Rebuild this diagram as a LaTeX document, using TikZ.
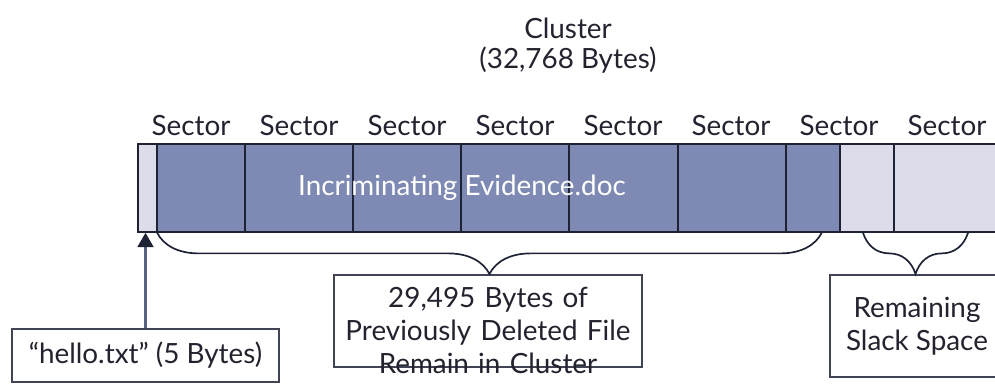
\documentclass[tikz,border=0pt]{standalone}
\usepackage{fontspec}
\setmainfont{Lato}
\usetikzlibrary{arrows.meta,positioning,decorations.pathreplacing}
\definecolor{clusterdark}{HTML}{7E8AB4}
\definecolor{clusterlight}{HTML}{DDDCEB}
\definecolor{clusterline}{HTML}{1E2235}
\definecolor{labeltext}{HTML}{22232E}
\definecolor{arrowslate}{HTML}{56627F}
\tikzset{
  sector-label/.style={font=\fontsize{19.8}{23.5}\selectfont, text=labeltext, inner sep=0pt},
  sector-cell/.style={draw=clusterline, line width=1.1pt, minimum height=2.2cm, inner sep=0pt, anchor=west},
  callout-box/.style={draw=clusterline!85, line width=1.3pt, fill=white, align=center,
    font=\fontsize{19.8}{23.5}\selectfont, text=labeltext, inner sep=0pt},
  cluster-brace/.style={decorate, decoration={brace, mirror, amplitude=1.03cm}, draw=clusterline, line width=1.2pt}
}

\begin{document}
\begin{tikzpicture}[x=0.025cm, y=-0.025cm]
  \useasboundingbox (0,0) rectangle (995,392);

  % Cluster title
  \node[sector-label] (title) at (568,28) {Cluster};
  \node[sector-label] (size) at (568,60) {(32,768 Bytes)};

  % Sector labels
  \foreach \i/\x in {1/191, 2/299, 3/407, 4/515, 5/623, 6/731, 7/839, 8/947} {
    \node[sector-label] (sec\i) at (\x,126) {Sector};
  }

  % Cluster bar: slack, file, slack
  \node[sector-cell, fill=clusterlight, minimum width=0.475cm] (slack0) at (137,188) {};
  \node[sector-cell, fill=clusterdark, minimum width=17.075cm] (file) at (156,188) {};
  \node[sector-cell, fill=clusterlight, minimum width=1.35cm] (slack1) at (839,188) {};
  \node[sector-cell, fill=clusterlight, minimum width=2.7cm] (slack2) at (893,188) {};
  \foreach \x in {245, 353, 461, 569, 678, 786} {
    \draw[clusterline, line width=1.1pt] (\x,144) -- (\x,232);
  }
  \node[sector-label, text=white] (doc) at (462,188) {Incriminating Evidence.doc};

  % Callouts
  \node[callout-box, minimum width=6.675cm, minimum height=1.325cm] (hello) at (145.5,355.5) {“hello.txt” (5 Bytes)};
  \node[callout-box, anchor=north, text width=7.7cm, inner ysep=0.3cm, text depth=1.2cm] (deleted) at (488,274)
    {29,495 Bytes of\\Previously Deleted File\\Remain in Cluster};
  \node[callout-box, minimum width=4.35cm, minimum height=2.55cm] (slack) at (917,326) {Remaining\\Slack Space};

  % Braces
  \draw[cluster-brace] ([xshift=0.03cm]file.south west) -- ([xshift=-0.475cm]file.south east);
  \draw[cluster-brace] ([xshift=0.6cm]slack1.south west) -- ([xshift=1.875cm]slack2.south west);

  % Arrow to hello.txt
  \draw[-{Triangle[length=0.36cm, width=0.4cm, color=clusterline]}, arrowslate, line width=1.5pt]
    (hello.north) -- (hello.north |- slack0.south);
\end{tikzpicture}
\end{document}
